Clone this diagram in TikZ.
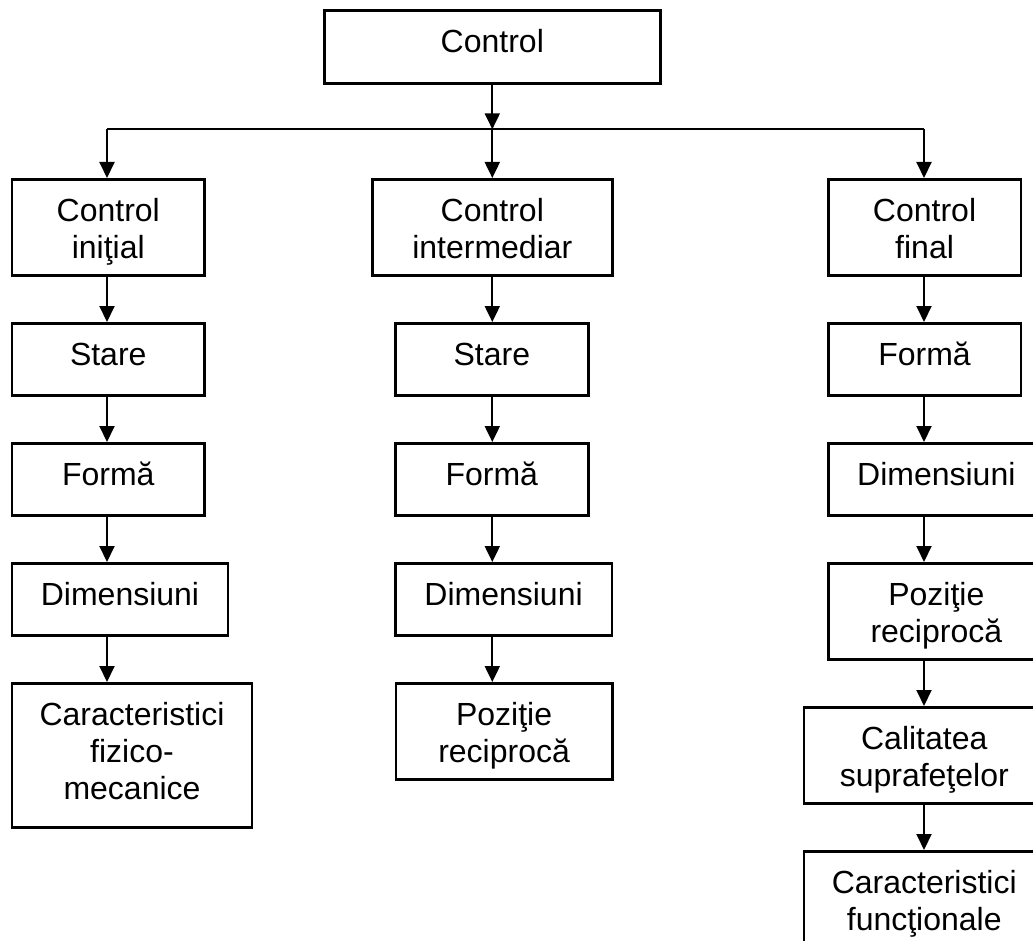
\documentclass[tikz,border=0pt]{standalone}
\usepackage{fontspec}
\setmainfont{Liberation Sans}
\usetikzlibrary{arrows.meta}

% Text frame: fixed width and height, lines centred, first line set from the top
\newcommand\boxfont{\fontsize{32}{37}\selectfont}
\newcommand\framedtext[3]{\parbox[c][#2pt][t]{#1pt}{\centering\rule{0pt}{42pt}#3}}

\tikzset{
  box/.style={draw, line width=2.6pt, inner sep=0pt, anchor=north west, font=\boxfont},
  link/.style={line width=2pt},
  arr/.style={link, -{Triangle[width=15pt,length=16pt]}},
}

\begin{document}
\begin{tikzpicture}[x=1pt, y=-1pt]
  \useasboundingbox (0,0) rectangle (1033,941);
  \clip (0,0) rectangle (1033,941);

  % root
  \node[box] (ctrl) at (323,9) {\framedtext{336}{73}{Control}};

  % distribution line
  \coordinate (busL) at (107,129.3);
  \coordinate (busR) at (924,129.3);

  % first level
  \node[box] (ci) at (10.7,178) {\framedtext{192.5}{96}{Control\\ iniţial}};
  \node[box] (cm) at (371,178)  {\framedtext{240}{96}{Control\\ intermediar}};
  \node[box] (cf) at (827,178)  {\framedtext{192.5}{96}{Control\\ final}};

  % left column
  \node[box] (l1) at (10.7,322) {\framedtext{192.5}{72}{Stare}};
  \node[box] (l2) at (10.7,442) {\framedtext{192.5}{72}{Formă}};
  \node[box] (l3) at (10.7,562) {\framedtext{216}{72}{Dimensiuni}};
  \node[box] (l4) at (10.7,682) {\framedtext{240}{144}{Caracteristici\\ fizico-\\ mecanice}};

  % middle column
  \node[box] (m1) at (394,322)   {\framedtext{193}{72}{Stare}};
  \node[box] (m2) at (394,442)   {\framedtext{193}{72}{Formă}};
  \node[box] (m3) at (394,562)   {\framedtext{216.5}{72}{Dimensiuni}};
  \node[box] (m4) at (394.5,682) {\framedtext{216.5}{96}{Poziţie\\ reciprocă}};

  % right column
  \node[box] (r1) at (827,322)   {\framedtext{192.5}{72}{Formă}};
  \node[box] (r2) at (827,442)   {\framedtext{216}{72}{Dimensiuni}};
  \node[box] (r3) at (827,562)   {\framedtext{216}{96}{Poziţie\\ reciprocă}};
  \node[box] (r4) at (802.7,706) {\framedtext{240.5}{96}{Calitatea\\ suprafeţelor}};
  \node[box] (r5) at (802.7,850) {\framedtext{240.5}{144}{Caracteristici\\ funcţionale}};

  % root to first level
  \draw[link] (busL) -- (busR);
  \draw[arr] (ctrl.south) -- (ctrl.south |- busL);
  \draw[arr] (ctrl.south |- busL) -- (cm.north);
  \draw[arr] (busL) -- (busL |- ci.north);
  \draw[arr] (busR) -- (busR |- cf.north);

  % chains down each column
  \foreach \a/\b in {ci/l1, l1/l2, l2/l3, l3/l4}
    \draw[arr] (\a.south -| busL) -- (\b.north -| busL);
  \foreach \a/\b in {cm/m1, m1/m2, m2/m3, m3/m4}
    \draw[arr] (\a.south -| cm.north) -- (\b.north -| cm.north);
  \foreach \a/\b in {cf/r1, r1/r2, r2/r3, r3/r4, r4/r5}
    \draw[arr] (\a.south -| busR) -- (\b.north -| busR);
\end{tikzpicture}
\end{document}
